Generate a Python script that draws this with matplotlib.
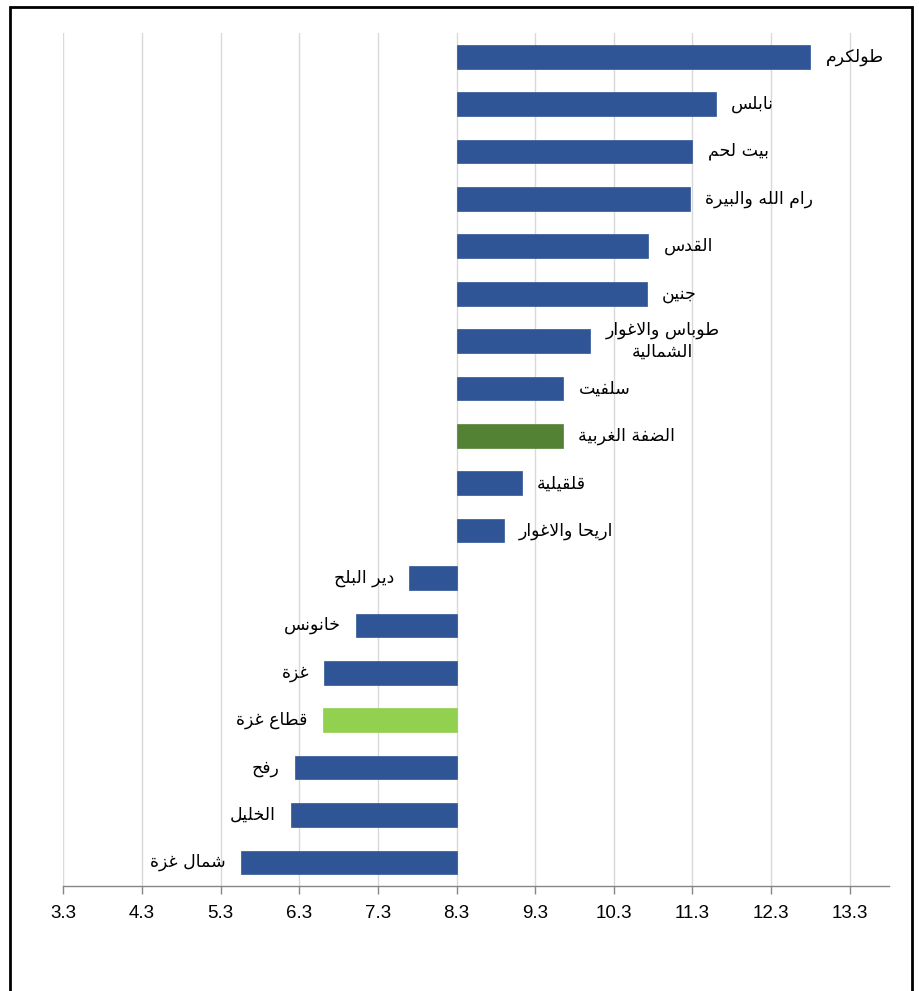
import matplotlib
matplotlib.use("Agg")
import matplotlib.pyplot as plt
import numpy as np
from matplotlib.patches import Rectangle

# ---------------- data ----------------
categories = ["طولكرم", "نابلس", "بيت لحم", "رام الله والبيرة", "القدس", "جنين",
              "طوباس والاغوار\nالشمالية", "سلفيت", "الضفة الغربية", "قلقيلية",
              "اريحا والاغوار", "دير البلح", "خانونس", "غزة", "قطاع غزة", "رفح",
              "الخليل", "شمال غزة"]
values = [12.8, 11.6, 11.3, 11.27, 10.74, 10.72, 10.0, 9.66, 9.65, 9.13, 8.9,
          7.7, 7.02, 6.62, 6.6, 6.24, 6.2, 5.56]
base_value = 8.3
bar_colors = ["#2F5597"] * 8 + ["#548235"] + ["#2F5597"] * 5 + ["#92D050"] + ["#2F5597"] * 3
tick_values = [3.3, 4.3, 5.3, 6.3, 7.3, 8.3, 9.3, 10.3, 11.3, 12.3, 13.3]
tick_labels = ["3.3", "4.3", "5.3", "6.3", "7.3", "8.3", "9.3", "10.3", "11.3", "12.3", "13.3"]

# ------------- simple Arabic shaping (presentation forms + RTL order) -------------
BASE = {'ا': (0xFE8D, 2), 'ب': (0xFE8F, 4), 'ة': (0xFE93, 2), 'ت': (0xFE95, 4), 'ث': (0xFE99, 4),
        'ج': (0xFE9D, 4), 'ح': (0xFEA1, 4), 'خ': (0xFEA5, 4), 'د': (0xFEA9, 2), 'ذ': (0xFEAB, 2),
        'ر': (0xFEAD, 2), 'ز': (0xFEAF, 2), 'س': (0xFEB1, 4), 'ش': (0xFEB5, 4), 'ص': (0xFEB9, 4),
        'ض': (0xFEBD, 4), 'ط': (0xFEC1, 4), 'ظ': (0xFEC5, 4), 'ع': (0xFEC9, 4), 'غ': (0xFECD, 4),
        'ف': (0xFED1, 4), 'ق': (0xFED5, 4), 'ك': (0xFED9, 4), 'ل': (0xFEDD, 4), 'م': (0xFEE1, 4),
        'ن': (0xFEE5, 4), 'ه': (0xFEE9, 4), 'و': (0xFEED, 2), 'ى': (0xFEEF, 2), 'ي': (0xFEF1, 4)}


def shape_line(s):
    out = []
    n = len(s)
    i = 0
    while i < n:
        c = s[i]
        if c not in BASE:
            out.append(c)
            i += 1
            continue
        prev = s[i - 1] if i > 0 else None
        joins_prev = prev in BASE and BASE[prev][1] == 4
        if c == 'ل' and i + 1 < n and s[i + 1] == 'ا':
            out.append('\uFEFC' if joins_prev else '\uFEFB')
            i += 2
            continue
        nxt = s[i + 1] if i + 1 < n else None
        joins_next = BASE[c][1] == 4 and nxt in BASE
        if joins_prev and joins_next:
            k = 3
        elif joins_prev:
            k = 1
        elif joins_next:
            k = 2
        else:
            k = 0
        out.append(chr(BASE[c][0] + k))
        i += 1
    return ''.join(out)[::-1]


def shape(s):
    return "\n".join(shape_line(line) for line in s.split("\n"))


# ---------------- figure ----------------
fig = plt.figure(figsize=(9.19, 9.91), dpi=100)
ax = fig.add_axes([0.0689, 0.1059, 0.8985, 0.8608])

y = np.arange(len(categories))
widths = [v - base_value for v in values]
ax.barh(y, widths, left=base_value, height=0.5, color=bar_colors,
        edgecolor=bar_colors, linewidth=0.5, zorder=3)

ax.set_ylim(len(categories) - 0.5, -0.5)
ax.set_xlim(3.3, 13.8)

for yi, v, lab in zip(y, values, categories):
    if v >= base_value:
        ax.annotate(shape(lab), xy=(v, yi), xytext=(11, 0), textcoords="offset points",
                    ha="left", va="center", multialignment="center",
                    fontsize=12.5, family=["DejaVu Sans"], color="#000000",
                    linespacing=1.25)
    else:
        ax.annotate(shape(lab), xy=(v, yi), xytext=(-11, 0), textcoords="offset points",
                    ha="right", va="center", multialignment="center",
                    fontsize=12.5, family=["DejaVu Sans"], color="#000000")

ax.set_xticks(tick_values)
ax.set_xticklabels(tick_labels, fontsize=13.5, family=["Liberation Sans Narrow", "Liberation Sans"])
ax.set_yticks([])
ax.grid(axis="x", color="#D9D9D9", linewidth=1, zorder=0)
for side in ["top", "right", "left"]:
    ax.spines[side].set_visible(False)
ax.spines["bottom"].set_color("#868686")
ax.spines["bottom"].set_linewidth(1)
ax.tick_params(axis="x", direction="out", length=6, color="#868686", width=1, pad=8)

# outer border
fig.patches.append(Rectangle((10 / 919, -0.02), (912 - 10) / 919, 1 - 7 / 991 + 0.02,
                             transform=fig.transFigure, fill=False, edgecolor="black",
                             linewidth=2, zorder=10))

fig.savefig("out.png", dpi=100)
